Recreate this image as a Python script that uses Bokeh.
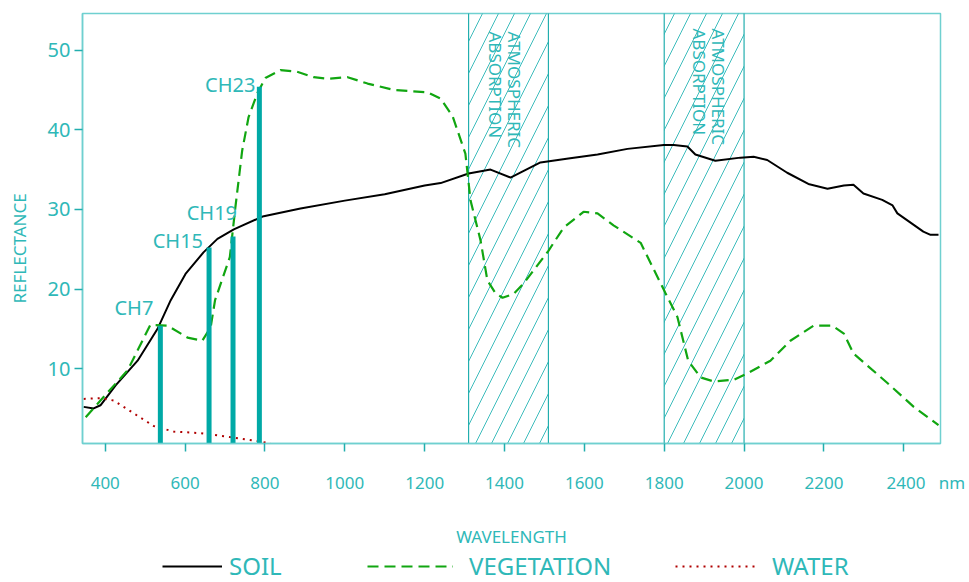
import math
from bokeh.plotting import figure
from bokeh.layouts import column
from bokeh.models import Range1d, Legend, LegendItem, FixedTicker, ColumnDataSource
from bokeh.core.properties import value
from bokeh.embed import file_html
from bokeh.resources import INLINE

# ---------------- data ----------------
soil_nm = [346, 371, 388, 426, 481, 531, 564, 601, 646, 681, 722, 794, 889, 1000, 1100,
           1200, 1240, 1310, 1365, 1415, 1490, 1560, 1633, 1708, 1799, 1824, 1858, 1878,
           1928, 1991, 2024, 2058, 2108, 2161, 2209, 2250, 2274, 2299, 2346, 2372, 2384,
           2449, 2467, 2487]
soil_refl = [5.2, 5.0, 5.4, 7.9, 11.0, 15.0, 18.6, 21.9, 24.6, 26.3, 27.5, 29.1, 30.1, 31.1, 31.9,
             33.0, 33.3, 34.5, 35.0, 34.0, 35.9, 36.4, 36.9, 37.6, 38.1, 38.1, 37.9, 36.9,
             36.1, 36.5, 36.6, 36.2, 34.6, 33.2, 32.6, 33.0, 33.1, 32.0, 31.2, 30.5, 29.5,
             27.2, 26.8, 26.8]

veg_nm = [351, 388, 456, 513, 556, 606, 643, 664, 675, 712, 726, 743, 759, 781, 801, 839, 880,
          922, 957, 1007, 1057, 1123, 1207, 1240, 1270, 1302, 1315, 1340, 1357, 1377, 1395,
          1423, 1448, 1510, 1548, 1598, 1633, 1673, 1741, 1803, 1833, 1860, 1891, 1923, 1974,
          2008, 2066, 2116, 2174, 2221, 2250, 2274, 2359, 2425, 2487]
veg_refl = [3.9, 6.0, 9.8, 15.5, 15.4, 13.9, 13.5, 15.2, 18.6, 24.0, 30.3, 37.4, 41.6, 44.6,
            46.5, 47.5, 47.3, 46.6, 46.4, 46.6, 45.8, 45.0, 44.7, 43.9, 41.7, 37.0, 31.1, 26.1,
            21.1, 19.5, 18.9, 19.4, 20.7, 24.8, 27.7, 29.7, 29.5, 28.0, 25.8, 19.5, 16.5, 11.0,
            8.9, 8.4, 8.6, 9.4, 11.0, 13.5, 15.4, 15.4, 14.4, 11.9, 8.2, 5.2, 2.9]

water_nm = [346, 388, 421, 471, 521, 571, 639, 714, 781, 814]
water_refl = [6.2, 6.3, 6.0, 4.4, 2.8, 2.1, 1.9, 1.4, 0.9, 0.6]

channel_names = ["CH7", "CH15", "CH19", "CH23"]
channel_nm = [538, 660, 720, 786]
channel_refl = [15.4, 25.2, 26.6, 45.4]

band_start = [1310, 1800]
band_end = [1510, 2000]

x_ticks = [400, 600, 800, 1000, 1200, 1400, 1600, 1800, 2000, 2200, 2400]
y_ticks = [10, 20, 30, 40, 50]

series_names = ["SOIL", "VEGETATION", "WATER"]

# ---------------- styles ----------------
TEAL_TXT = "#2fb8b8"
TEAL_LINE = "#6fd0d0"
TEAL_TICK = "#22aeae"
TEAL_BAR = "#00a9a6"
HATCH = "#3dbcbc"
FONT = "Noto Sans"
NB = "\u00a0"

SOIL_STYLE = dict(line_color="black", line_width=2)
VEG_STYLE = dict(line_color="#11a611", line_width=2.2, line_dash="11 6")
WATER_STYLE = dict(line_color="#b00000", line_width=2, line_dash="2 5")

X0, X1 = 343, 2492
Y0, Y1 = 0.6, 54.6

p = figure(width=969, height=550, output_backend="svg", toolbar_location=None,
           x_range=Range1d(X0, X1), y_range=Range1d(Y0, Y1),
           min_border_left=82, min_border_right=29, min_border_top=13, min_border_bottom=107)
p.grid.visible = False
p.outline_line_color = TEAL_LINE
p.outline_line_width = 1.5
p.background_fill_color = "white"
p.border_fill_color = "white"

# absorption bands
bands = ColumnDataSource(dict(left=band_start, right=band_end))
p.quad(left="left", right="right", bottom=Y0 - 5, top=Y1 + 5, source=bands,
       fill_color=None, line_color=TEAL_TICK, line_width=1.2,
       hatch_pattern="/", hatch_color=HATCH, hatch_scale=32, hatch_weight=1)

band_txt = ColumnDataSource(dict(x=band_start, y=[Y1, Y1],
                                 dx1=[57, 66], dx2=[38, 47], dy=[18, 15]))
p.text(x="x", y="y", source=band_txt, text=value("ATMOSPHERIC"), angle=-math.pi / 2,
       x_offset="dx1", y_offset="dy", text_align="left", text_baseline="top",
       text_color=TEAL_TXT, text_font=value(FONT), text_font_size="17px")
p.text(x="x", y="y", source=band_txt, text=value("ABSORPTION"), angle=-math.pi / 2,
       x_offset="dx2", y_offset="dy", text_align="left", text_baseline="top",
       text_color=TEAL_TXT, text_font=value(FONT), text_font_size="17px")

# curves
p.line(soil_nm, soil_refl, **SOIL_STYLE)
p.line(veg_nm, veg_refl, **VEG_STYLE)
p.line(water_nm, water_refl, **WATER_STYLE)

# channels
ch = ColumnDataSource(dict(x=channel_nm, y=channel_refl, name=channel_names,
                           dx=[-7, -6, 4, -4], dy=[-18, -7, -24, -2]))
p.segment(x0="x", y0=Y0 - 1, x1="x", y1="y", source=ch, line_color=TEAL_BAR, line_width=5)
p.text(x="x", y="y", text="name", source=ch, x_offset="dx", y_offset="dy",
       text_align="right", text_baseline="middle", text_color=TEAL_TXT,
       text_font=value(FONT), text_font_size="20px")

# axes
p.xaxis.ticker = FixedTicker(ticks=x_ticks)
p.yaxis.ticker = FixedTicker(ticks=y_ticks)
for ax in (p.xaxis[0], p.yaxis[0]):
    ax.axis_line_color = TEAL_LINE
    ax.axis_line_width = 1.5
    ax.major_tick_line_color = TEAL_TICK
    ax.major_tick_line_width = 1.5
    ax.major_tick_in = 0
    ax.minor_tick_line_color = None
    ax.major_label_text_color = TEAL_TXT
    ax.major_label_text_font = FONT
    ax.axis_label_text_color = TEAL_TXT
    ax.axis_label_text_font = FONT
    ax.axis_label_text_font_style = "normal"
    ax.axis_label_text_font_size = "17px"

p.xaxis.major_tick_out = 8
p.xaxis.major_label_standoff = 19
p.xaxis.major_label_text_font_size = "17px"
p.xaxis.major_label_overrides = {x_ticks[-1]: NB * 10 + str(x_ticks[-1]) + NB * 3 + "nm"}
p.xaxis.axis_label = "WAVELENGTH"
p.xaxis.axis_label_standoff = 28

p.yaxis.major_tick_out = 8
p.yaxis.major_label_standoff = 4
p.yaxis.major_label_text_font_size = "20px"
p.yaxis.axis_label = "REFLECTANCE" + NB * 9
p.yaxis.axis_label_standoff = 14

# ---------------- legend strip ----------------
p2 = figure(width=969, height=32, output_backend="svg", toolbar_location=None,
            x_axis_type=None, y_axis_type=None, min_border=0,
            x_range=Range1d(0, 1), y_range=Range1d(0, 1))
p2.grid.visible = False
p2.outline_line_color = None
p2.background_fill_color = "white"
p2.border_fill_color = "white"

# same series drawn again (outside this strip's visible range) to feed the legend
r_soil = p2.line(soil_nm, soil_refl, **SOIL_STYLE)
r_veg = p2.line(veg_nm, veg_refl, **VEG_STYLE)
r_water = p2.line(water_nm, water_refl, **WATER_STYLE)

for name, rend, xloc, gw, stand in zip(series_names, [r_soil, r_veg, r_water],
                                       [80, 285, 593], [60, 86, 80], [7, 16, 17]):
    lg = Legend(items=[LegendItem(label=name, renderers=[rend])],
                location=(xloc, 0), orientation="horizontal",
                label_text_font=FONT, label_text_font_size="24px", label_text_color=TEAL_TXT,
                glyph_width=gw, glyph_height=20, label_standoff=stand, padding=0, margin=0,
                border_line_color=None, background_fill_alpha=0)
    p2.add_layout(lg, "center")

open("out.html", "w").write(file_html(column(p, p2, spacing=0), INLINE))
